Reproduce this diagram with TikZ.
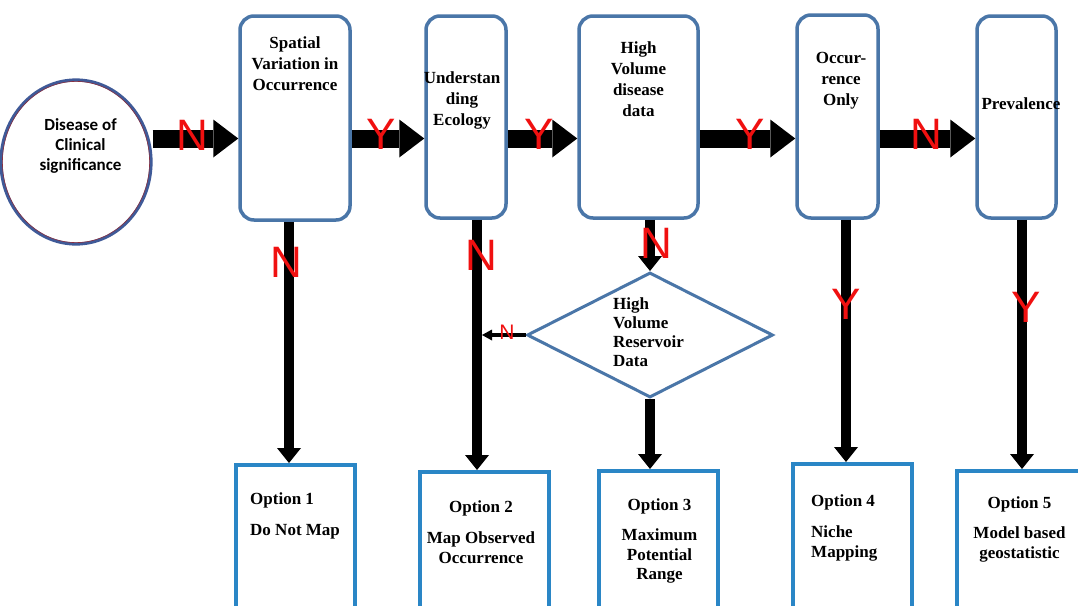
\documentclass[tikz,border=0pt]{standalone}
\usepackage{fontspec}
\setmainfont{Liberation Serif}
\newfontfamily\labfont{Liberation Sans}
\newfontfamily\carfont{Carlito}
\usetikzlibrary{shapes.geometric,arrows.meta}
\definecolor{topblue}{HTML}{4A76A8}
\definecolor{optblue}{HTML}{2A86C6}
\definecolor{ellblue}{HTML}{3F5A98}
\definecolor{ellred}{HTML}{8A3040}
\definecolor{lblred}{HTML}{F01010}
\newcommand\tstr{\rule{0pt}{12.5pt}}
\begin{document}
\begin{tikzpicture}[x=1pt,y=-1pt,
 topbox/.style={draw=topblue,line width=3.5pt,rounded corners=14pt,fill=white,inner sep=0pt},
 optbox/.style={draw=optblue,line width=4pt,fill=white,inner sep=0pt},
 boxtext/.style={font=\bfseries\fontsize{17}{21}\selectfont,inner sep=0pt,align=center,anchor=north},
 opttext/.style={font=\bfseries\fontsize{17}{19.5}\selectfont,inner sep=0pt},
 fat/.style={line width=18pt,-{Triangle[length=25pt,width=38pt,line width=0pt]}},
 varrow/.style={line width=10pt,-{Triangle[length=15pt,width=24pt,line width=0pt]}},
 sarrow/.style={line width=3.5pt,-{Triangle[length=10pt,width=11pt,line width=0pt]}},
 biglbl/.style={font=\labfont\fontsize{44}{44}\selectfont,text=lblred,inner sep=0pt},
 smalllbl/.style={font=\labfont\fontsize{21}{21}\selectfont,text=lblred,inner sep=0pt}]
\useasboundingbox (0,0) rectangle (1078,605);
\clip (0,0) rectangle (1078,605);
\fill[white] (0,0) rectangle (1078,605);

% ellipse
\node[draw=ellblue,line width=3.2pt,ellipse,minimum width=150pt,minimum height=164pt,inner sep=0pt] (ell) at (76,162) {};
\draw[ellred,line width=0.6pt] (ell.center) ellipse [x radius=73.6pt, y radius=80.6pt];
\node[font=\carfont\bfseries\fontsize{17}{20}\selectfont,align=center,anchor=north,inner sep=0pt] (te) at (80.5,117.5) {\rule{0pt}{13pt}Disease of\\Clinical\\significance};

% top boxes
\node[topbox,minimum width=110pt,minimum height=204pt] (b1) at (295,118) {};
\node[topbox,minimum width=80pt,minimum height=202pt] (b2) at (466,117) {};
\node[topbox,minimum width=119pt,minimum height=202pt] (b3) at (638.5,117) {};
\node[topbox,minimum width=81pt,minimum height=203pt] (b4) at (837.5,116.5) {};
\node[topbox,minimum width=79pt,minimum height=202pt] (b5) at (1016.5,117) {};

% diamond
\node[draw=topblue,line width=3pt,diamond,minimum width=246pt,minimum height=125pt,inner sep=0pt,fill=white] (dia) at (650,335) {};

% option boxes
\node[optbox,minimum width=119pt,minimum height=155pt] (o1) at (295.5,542.5) {};
\node[optbox,minimum width=129pt,minimum height=148pt] (o2) at (484.5,546) {};
\node[optbox,minimum width=119pt,minimum height=149pt] (o3) at (658.5,545.5) {};
\node[optbox,minimum width=119pt,minimum height=156pt] (o4) at (852.5,542) {};
\node[optbox,minimum width=126pt,minimum height=149pt] (o5) at (1020,545.5) {};

% horizontal fat arrows
\coordinate (hy) at (0,138.5);
\draw[fat] (ell.east |- hy) -- (b1.west |- hy);
\draw[fat] (b1.east |- hy) -- (b2.west |- hy);
\draw[fat] (b2.east |- hy) -- (b3.west |- hy);
\draw[fat] (b3.east |- hy) -- (b4.west |- hy);
\draw[fat] (b4.east |- hy) -- (b5.west |- hy);

% vertical arrows
\coordinate (v1) at ([xshift=-6pt]b1.south);
\draw[varrow] (v1) -- (v1 |- o1.north);
\coordinate (v2) at ([xshift=11pt]b2.south);
\draw[varrow] (v2) -- (v2 |- o2.north);
\draw[varrow] (b3.south -| dia.north) -- (dia.north);
\draw[varrow] (dia.south) -- (dia.south |- o3.north);
\coordinate (v4) at ([xshift=8.5pt]b4.south);
\draw[varrow] (v4) -- (v4 |- o4.north);
\coordinate (v5) at ([xshift=5.5pt]b5.south);
\draw[varrow] (v5) -- (v5 |- o5.north);
\draw[sarrow,shorten >=5pt] (dia.west) -- (dia.west -| v2);

% labels
\node[biglbl] (lN1) at (192,135) {N};
\node[biglbl] (lY1) at (381,134) {Y};
\node[biglbl] (lY2) at (539,134) {Y};
\node[biglbl] (lY3) at (750,134) {Y};
\node[biglbl] (lN2) at (926,134) {N};
\node[biglbl] (lN3) at (286,262) {N};
\node[biglbl] (lN4) at (481,255) {N};
\node[biglbl] (lN5) at (656,243) {N};
\node[biglbl] (lY4) at (846,304) {Y};
\node[biglbl] (lY5) at (1026,307) {Y};
\node[smalllbl] (lN6) at (507,332) {N};

% texts
\node[boxtext] (t1) at (295,36) {\tstr Spatial\\Variation in\\Occurrence};
\node[boxtext] (t2) at (462,71) {\tstr Understan\\ding\\Ecology};
\node[boxtext] (t3) at (638.5,41) {\tstr High\\Volume\\disease\\data};
\node[boxtext] (t4) at (841,51) {\tstr Occur-\\rence\\Only};
\node[boxtext] (t5) at (1021,97) {\tstr Prevalence};
\node[font=\bfseries\fontsize{17}{19}\selectfont,inner sep=0pt,align=left,anchor=north west] (td) at (613,297) {\tstr High\\Volume\\Reservoir\\Data};

\node[opttext,align=left,anchor=north west] (to1) at (250,492) {\tstr Option 1\\[11pt]Do Not Map};
\node[opttext,align=center,anchor=north] (to2) at (481,500) {\tstr Option 2\\[11.5pt]Map Observed\\Occurrence};
\node[opttext,align=center,anchor=north] (to3) at (659.5,498) {\tstr Option 3\\[10.5pt]Maximum\\Potential\\Range};
\node[opttext,align=left,anchor=north west] (to4) at (811,494) {\tstr Option 4\\[11.5pt]Niche\\Mapping};
\node[opttext,align=center,anchor=north] (to5) at (1019.5,496) {\tstr Option 5\\[10.5pt]Model based\\geostatistic};
\end{tikzpicture}
\end{document}
